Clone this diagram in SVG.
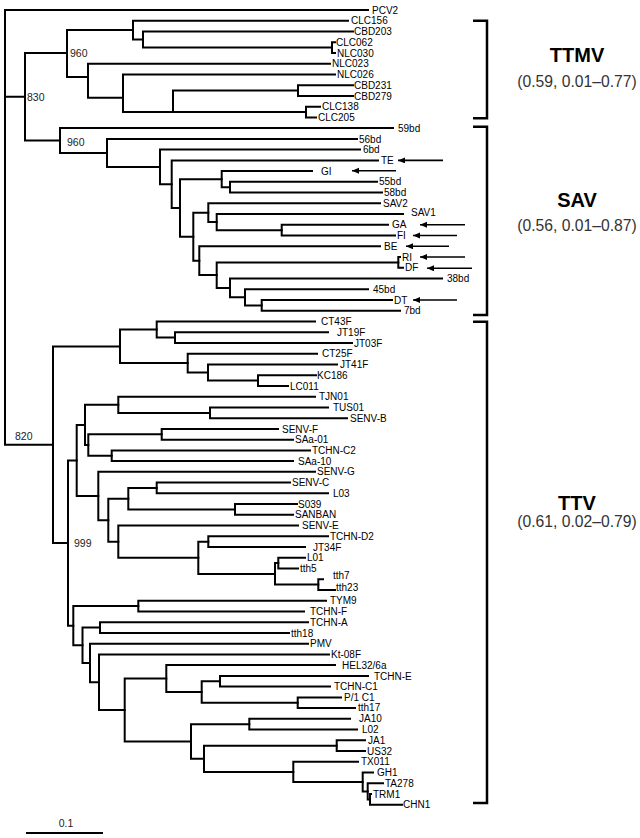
<svg xmlns="http://www.w3.org/2000/svg" width="640" height="838" viewBox="0 0 640 838">
<style>
.b{fill:none;stroke:#000;stroke-width:2;stroke-linecap:square}
.t{font-family:"Liberation Sans",Arial,sans-serif;font-size:10px;fill:#000}
.n{font-family:"Liberation Sans",Arial,sans-serif;font-size:10.5px;fill:#222}
.ar{stroke:#000;stroke-width:1.6;fill:none}
.br{fill:none;stroke:#000;stroke-width:2.5}
.ct{font-family:"Liberation Sans",Arial,sans-serif;font-size:20px;font-weight:bold;fill:#000;text-anchor:middle}
.cp{font-family:"Liberation Sans",Arial,sans-serif;font-size:15.7px;fill:#333;text-anchor:middle}
</style>
<defs>
<marker id="ah" markerUnits="userSpaceOnUse" markerWidth="8" markerHeight="7" refX="7" refY="3" orient="auto"><path d="M0,0 L7,3 L0,6 z" fill="#000"/></marker>
</defs>
<g id="connectors">
<path class="b" d="M5,10 V444.8 M5,10 H368 M5,96.8 H25 M5,444.8 H53"/>
<path class="b" d="M25,53 V140.5 M25,53 H67 M25,140.5 H60"/>
<path class="b" d="M67,30.1 V77 M67,30.1 H133 M67,77 H88"/>
<path class="b" d="M133,20.7 V39.5 M133,20.7 H348 M133,39.5 H143"/>
<path class="b" d="M143,31.5 V47.6 M143,31.5 H353 M143,47.6 H332"/>
<path class="b" d="M332,42.2 V53 M332,42.2 H335 M332,53 H335"/>
<path class="b" d="M88,63.7 V97.7 M88,63.7 H330 M88,97.7 H123"/>
<path class="b" d="M123,74.4 V112 M123,74.4 H335 M123,112 H306"/>
<path class="b" d="M173,90.5 V112 M173,90.5 H298"/>
<path class="b" d="M298,85.2 V95.9 M298,85.2 H353 M298,95.9 H353"/>
<path class="b" d="M306,106.7 V117.4 M306,106.7 H320 M306,117.4 H316"/>
<path class="b" d="M60,128.1 V152.9 M60,128.1 H393 M60,152.9 H107"/>
<path class="b" d="M107,138.9 V166.9 M107,138.9 H357 M107,166.9 H160"/>
<path class="b" d="M160,149.6 V184.2 M160,149.6 H360 M160,184.2 H171.7"/>
<path class="b" d="M171.7,160.4 V207.9 M171.7,160.4 H378 M171.7,207.9 H180"/>
<path class="b" d="M180,179.2 V236.7 M180,179.2 H221.7 M180,236.7 H193.3"/>
<path class="b" d="M221.7,171.1 V187.2 M221.7,171.1 H312 M221.7,187.2 H230"/>
<path class="b" d="M230,181.8 V192.6 M230,181.8 H377 M230,192.6 H382"/>
<path class="b" d="M193.3,212.7 V260.7 M193.3,212.7 H208.3 M193.3,260.7 H199.3"/>
<path class="b" d="M208.3,203.3 V222.1 M208.3,203.3 H380 M208.3,222.1 H216.7"/>
<path class="b" d="M216.7,214.1 V230.2 M216.7,214.1 H403 M216.7,230.2 H281.7"/>
<path class="b" d="M281.7,224.8 V235.5 M281.7,224.8 H388 M281.7,235.5 H395"/>
<path class="b" d="M199.3,246.3 V275.1 M199.3,246.3 H380 M199.3,275.1 H216.7"/>
<path class="b" d="M216.7,262.4 V287.9 M216.7,262.4 H398.3 M216.7,287.9 H230"/>
<path class="b" d="M398.3,257 V267.8 M398.3,257 H400 M398.3,267.8 H403"/>
<path class="b" d="M230,278.5 V297.3 M230,278.5 H442 M230,297.3 H245"/>
<path class="b" d="M245,289.2 V305.4 M245,289.2 H368 M245,305.4 H261.7"/>
<path class="b" d="M261.7,300 V310.7 M261.7,300 H392 M261.7,310.7 H400"/>
<path class="b" d="M53,346.4 V543.1 M53,346.4 H120 M53,543.1 H68"/>
<path class="b" d="M120,329.6 V363.1 M120,329.6 H156.7 M120,363.1 H187.7"/>
<path class="b" d="M156.7,321.5 V337.6 M156.7,321.5 H315 M156.7,337.6 H175"/>
<path class="b" d="M175,332.2 V343 M175,332.2 H328 M175,343 H352"/>
<path class="b" d="M187.7,353.7 V372.5 M187.7,353.7 H317 M187.7,372.5 H208"/>
<path class="b" d="M208,364.4 V380.6 M208,364.4 H337 M208,380.6 H258"/>
<path class="b" d="M258,375.2 V385.9 M258,375.2 H316 M258,385.9 H288"/>
<path class="b" d="M68,460.5 V625.7 M68,460.5 H76.7 M68,625.7 H73.3"/>
<path class="b" d="M76.7,425 V496 M76.7,425 H85 M76.7,496 H98.3"/>
<path class="b" d="M85,404.8 V445.1 M85,404.8 H118.3 M85,445.1 H88.3"/>
<path class="b" d="M118.3,396.7 V412.9 M118.3,396.7 H315 M118.3,412.9 H210"/>
<path class="b" d="M210,407.5 V418.2 M210,407.5 H328 M210,418.2 H347"/>
<path class="b" d="M88.3,434.3 V455.8 M88.3,434.3 H161.7 M88.3,455.8 H111.7"/>
<path class="b" d="M161.7,428.9 V439.7 M161.7,428.9 H278 M161.7,439.7 H293"/>
<path class="b" d="M111.7,450.4 V461.1 M111.7,450.4 H310 M111.7,461.1 H293"/>
<path class="b" d="M98.3,471.8 V520.2 M98.3,471.8 H315 M98.3,520.2 H108.3"/>
<path class="b" d="M108.3,498.7 V541.7 M108.3,498.7 H128.3 M108.3,541.7 H118.3"/>
<path class="b" d="M128.3,488 V509.4 M128.3,488 H156.7 M128.3,509.4 H235"/>
<path class="b" d="M156.7,482.6 V493.3 M156.7,482.6 H290 M156.7,493.3 H328"/>
<path class="b" d="M235,504 V514.8 M235,504 H297 M235,514.8 H293"/>
<path class="b" d="M118.3,525.5 V557.8 M118.3,525.5 H298 M118.3,557.8 H198.3"/>
<path class="b" d="M198.3,541.7 V573.9 M198.3,541.7 H208.3 M198.3,573.9 H275"/>
<path class="b" d="M208.3,536.3 V547 M208.3,536.3 H328 M208.3,547 H305"/>
<path class="b" d="M275,563.1 V584.6 M275,563.1 H278.3 M275,584.6 H318.3"/>
<path class="b" d="M278.3,557.7 V568.5 M278.3,557.7 H305 M278.3,568.5 H298"/>
<path class="b" d="M318.3,579.2 V590 M318.3,579.2 H323 M318.3,590 H335"/>
<path class="b" d="M73.3,606.1 V645.3 M73.3,606.1 H138.3 M73.3,645.3 H82.5"/>
<path class="b" d="M138.3,600.7 V611.4 M138.3,600.7 H326 M138.3,611.4 H304"/>
<path class="b" d="M82.5,627.6 V663 M82.5,627.6 H100 M82.5,663 H90"/>
<path class="b" d="M100,622.2 V632.9 M100,622.2 H308 M100,632.9 H289"/>
<path class="b" d="M90,643.7 V682.2 M90,643.7 H308 M90,682.2 H99"/>
<path class="b" d="M99,654.4 V710 M99,654.4 H329 M99,710 H124.7"/>
<path class="b" d="M124.7,678.6 V741.5 M124.7,678.6 H166.3 M124.7,741.5 H191"/>
<path class="b" d="M166.3,665.1 V692 M166.3,665.1 H335 M166.3,692 H201.7"/>
<path class="b" d="M201.7,681.3 V702.8 M201.7,681.3 H220 M201.7,702.8 H297.7"/>
<path class="b" d="M220,675.9 V686.6 M220,675.9 H368 M220,686.6 H330"/>
<path class="b" d="M297.7,697.4 V708.1 M297.7,697.4 H341 M297.7,708.1 H355"/>
<path class="b" d="M191,724.2 V758.8 M191,724.2 H249.3 M191,758.8 H204"/>
<path class="b" d="M249.3,718.8 V729.6 M249.3,718.8 H350 M249.3,729.6 H357"/>
<path class="b" d="M204,745.7 V771.9 M204,745.7 H336.7 M204,771.9 H293.3"/>
<path class="b" d="M336.7,740.3 V751.1 M336.7,740.3 H365 M336.7,751.1 H365"/>
<path class="b" d="M293.3,761.8 V782 M293.3,761.8 H358 M293.3,782 H362.7"/>
<path class="b" d="M362.7,772.5 V791.4 M362.7,772.5 H373 M362.7,791.4 H367.7"/>
<path class="b" d="M367.7,783.3 V799.4 M367.7,783.3 H383 M367.7,799.4 H370"/>
<path class="b" d="M370,794 V804.8 M370,794 H371 M370,804.8 H402"/>
</g>
<g id="arrows">
<line class="ar" x1="443" y1="160.4" x2="398" y2="160.4" marker-end="url(#ah)"/>
<line class="ar" x1="396" y1="170.8" x2="352" y2="170.8" marker-end="url(#ah)"/>
<line class="ar" x1="465" y1="224.8" x2="420" y2="224.8" marker-end="url(#ah)"/>
<line class="ar" x1="457" y1="235.5" x2="413" y2="235.5" marker-end="url(#ah)"/>
<line class="ar" x1="449" y1="246.3" x2="406" y2="246.3" marker-end="url(#ah)"/>
<line class="ar" x1="465" y1="257" x2="420" y2="257" marker-end="url(#ah)"/>
<line class="ar" x1="472" y1="268.3" x2="427" y2="268.3" marker-end="url(#ah)"/>
<line class="ar" x1="457" y1="300" x2="413" y2="300" marker-end="url(#ah)"/>
</g>
<g id="support">
<text class="n" x="70" y="56.8">960</text>
<text class="n" x="27" y="100.6">830</text>
<text class="n" x="67" y="145.5">960</text>
<text class="n" x="15" y="439.8">820</text>
<text class="n" x="74" y="546.9">999</text>
</g>
<g id="leaves">
<g id="PCV2"><text class="t" x="372" y="13.6">PCV2</text></g>
<g id="CLC156"><text class="t" x="351" y="24.3">CLC156</text></g>
<g id="CBD203"><text class="t" x="354" y="35.1">CBD203</text></g>
<g id="CLC062"><text class="t" x="336" y="45.8">CLC062</text></g>
<g id="NLC030"><text class="t" x="337" y="56.6">NLC030</text></g>
<g id="NLC023"><text class="t" x="332" y="67.3">NLC023</text></g>
<g id="NLC026"><text class="t" x="337" y="78">NLC026</text></g>
<g id="CBD231"><text class="t" x="354" y="88.8">CBD231</text></g>
<g id="CBD279"><text class="t" x="354" y="99.5">CBD279</text></g>
<g id="CLC138"><text class="t" x="322" y="110.3">CLC138</text></g>
<g id="CLC205"><text class="t" x="318" y="121">CLC205</text></g>
<g id="bd59"><text class="t" x="398" y="131.7">59bd</text></g>
<g id="bd56"><text class="t" x="359" y="142.5">56bd</text></g>
<g id="bd6"><text class="t" x="363" y="153.2">6bd</text></g>
<g id="TE"><text class="t" x="381" y="164">TE</text></g>
<g id="GI"><text class="t" x="321" y="174.7">GI</text></g>
<g id="bd55"><text class="t" x="379" y="185.4">55bd</text></g>
<g id="bd58"><text class="t" x="384" y="196.2">58bd</text></g>
<g id="SAV2"><text class="t" x="383" y="206.6">SAV2</text></g>
<g id="SAV1"><text class="t" x="411" y="215.6">SAV1</text></g>
<g id="GA"><text class="t" x="392" y="228.4">GA</text></g>
<g id="FI"><text class="t" x="397" y="239.1">FI</text></g>
<g id="BE"><text class="t" x="384" y="249.9">BE</text></g>
<g id="RI"><text class="t" x="402" y="260.6">RI</text></g>
<g id="DF"><text class="t" x="405" y="271.4">DF</text></g>
<g id="bd38"><text class="t" x="447" y="282.1">38bd</text></g>
<g id="bd45"><text class="t" x="373" y="292.8">45bd</text></g>
<g id="DT"><text class="t" x="394" y="303.6">DT</text></g>
<g id="bd7"><text class="t" x="404" y="314.3">7bd</text></g>
<g id="CT43F"><text class="t" x="321" y="325.1">CT43F</text></g>
<g id="JT19F"><text class="t" x="337" y="335.8">JT19F</text></g>
<g id="JT03F"><text class="t" x="354" y="346.6">JT03F</text></g>
<g id="CT25F"><text class="t" x="322" y="357.3">CT25F</text></g>
<g id="JT41F"><text class="t" x="340" y="368">JT41F</text></g>
<g id="KC186"><text class="t" x="317" y="378.8">KC186</text></g>
<g id="LC011"><text class="t" x="290" y="389.5">LC011</text></g>
<g id="TJN01"><text class="t" x="319" y="400.3">TJN01</text></g>
<g id="TUS01"><text class="t" x="333" y="411.1">TUS01</text></g>
<g id="SENV-B"><text class="t" x="350" y="421.8">SENV-B</text></g>
<g id="SENV-F"><text class="t" x="282" y="432.5">SENV-F</text></g>
<g id="SAa-01"><text class="t" x="295" y="443.3">SAa-01</text></g>
<g id="TCHN-C2"><text class="t" x="312" y="454">TCHN-C2</text></g>
<g id="SAa-10"><text class="t" x="298" y="464.7">SAa-10</text></g>
<g id="SENV-G"><text class="t" x="317" y="475.4">SENV-G</text></g>
<g id="SENV-C"><text class="t" x="292" y="486.2">SENV-C</text></g>
<g id="L03"><text class="t" x="333" y="496.9">L03</text></g>
<g id="S039"><text class="t" x="298" y="507.6">S039</text></g>
<g id="SANBAN"><text class="t" x="295" y="518.4">SANBAN</text></g>
<g id="SENV-E"><text class="t" x="302" y="529.1">SENV-E</text></g>
<g id="TCHN-D2"><text class="t" x="330" y="539.9">TCHN-D2</text></g>
<g id="JT34F"><text class="t" x="313" y="550.6">JT34F</text></g>
<g id="L01"><text class="t" x="307" y="561.3">L01</text></g>
<g id="tth5"><text class="t" x="300" y="572.1">tth5</text></g>
<g id="tth7"><text class="t" x="333" y="579.3">tth7</text></g>
<g id="tth23"><text class="t" x="336" y="591.3">tth23</text></g>
<g id="TYM9"><text class="t" x="330" y="604.3">TYM9</text></g>
<g id="TCHN-F"><text class="t" x="310" y="615">TCHN-F</text></g>
<g id="TCHN-A"><text class="t" x="310" y="625.8">TCHN-A</text></g>
<g id="tth18"><text class="t" x="291" y="636.5">tth18</text></g>
<g id="PMV"><text class="t" x="310" y="647.3">PMV</text></g>
<g id="Kt-08F"><text class="t" x="331" y="658">Kt-08F</text></g>
<g id="HEL32-6a"><text class="t" x="342" y="668.7">HEL32/6a</text></g>
<g id="TCHN-E"><text class="t" x="374" y="679.5">TCHN-E</text></g>
<g id="TCHN-C1"><text class="t" x="334" y="690.2">TCHN-C1</text></g>
<g id="P1C1"><text class="t" x="344" y="700.6">P/1 C1</text></g>
<g id="tth17"><text class="t" x="358" y="711">tth17</text></g>
<g id="JA10"><text class="t" x="359" y="722.4">JA10</text></g>
<g id="L02"><text class="t" x="362" y="733.2">L02</text></g>
<g id="JA1"><text class="t" x="368" y="744">JA1</text></g>
<g id="US32"><text class="t" x="367" y="754.7">US32</text></g>
<g id="TX011"><text class="t" x="361" y="765.4">TX011</text></g>
<g id="GH1"><text class="t" x="377" y="776.1">GH1</text></g>
<g id="TA278"><text class="t" x="385" y="786.9">TA278</text></g>
<g id="TRM1"><text class="t" x="373" y="797.6">TRM1</text></g>
<g id="CHN1"><text class="t" x="403" y="808.4">CHN1</text></g>
</g>
<g id="clades">
<g id="clade-TTMV"><path class="br" d="M473,20.7 H487 V118.3 H473"/><text class="ct" x="577" y="62">TTMV</text><text class="cp" x="577" y="87">(0.59, 0.01–0.77)</text></g>
<g id="clade-SAV"><path class="br" d="M473,126.7 H487 V315 H473"/><text class="ct" x="577" y="206.5">SAV</text><text class="cp" x="577" y="230.5">(0.56, 0.01–0.87)</text></g>
<g id="clade-TTV"><path class="br" d="M473,321.7 H487 V803 H473"/><text class="ct" x="577" y="510">TTV</text><text class="cp" x="577" y="527">(0.61, 0.02–0.79)</text></g>
</g>
<g id="scale">
<path class="b" d="M27,833 H102" stroke-linecap="butt"/>
<text class="n" x="66" y="827" text-anchor="middle" font-size="12px">0.1</text>
</g>
</svg>
